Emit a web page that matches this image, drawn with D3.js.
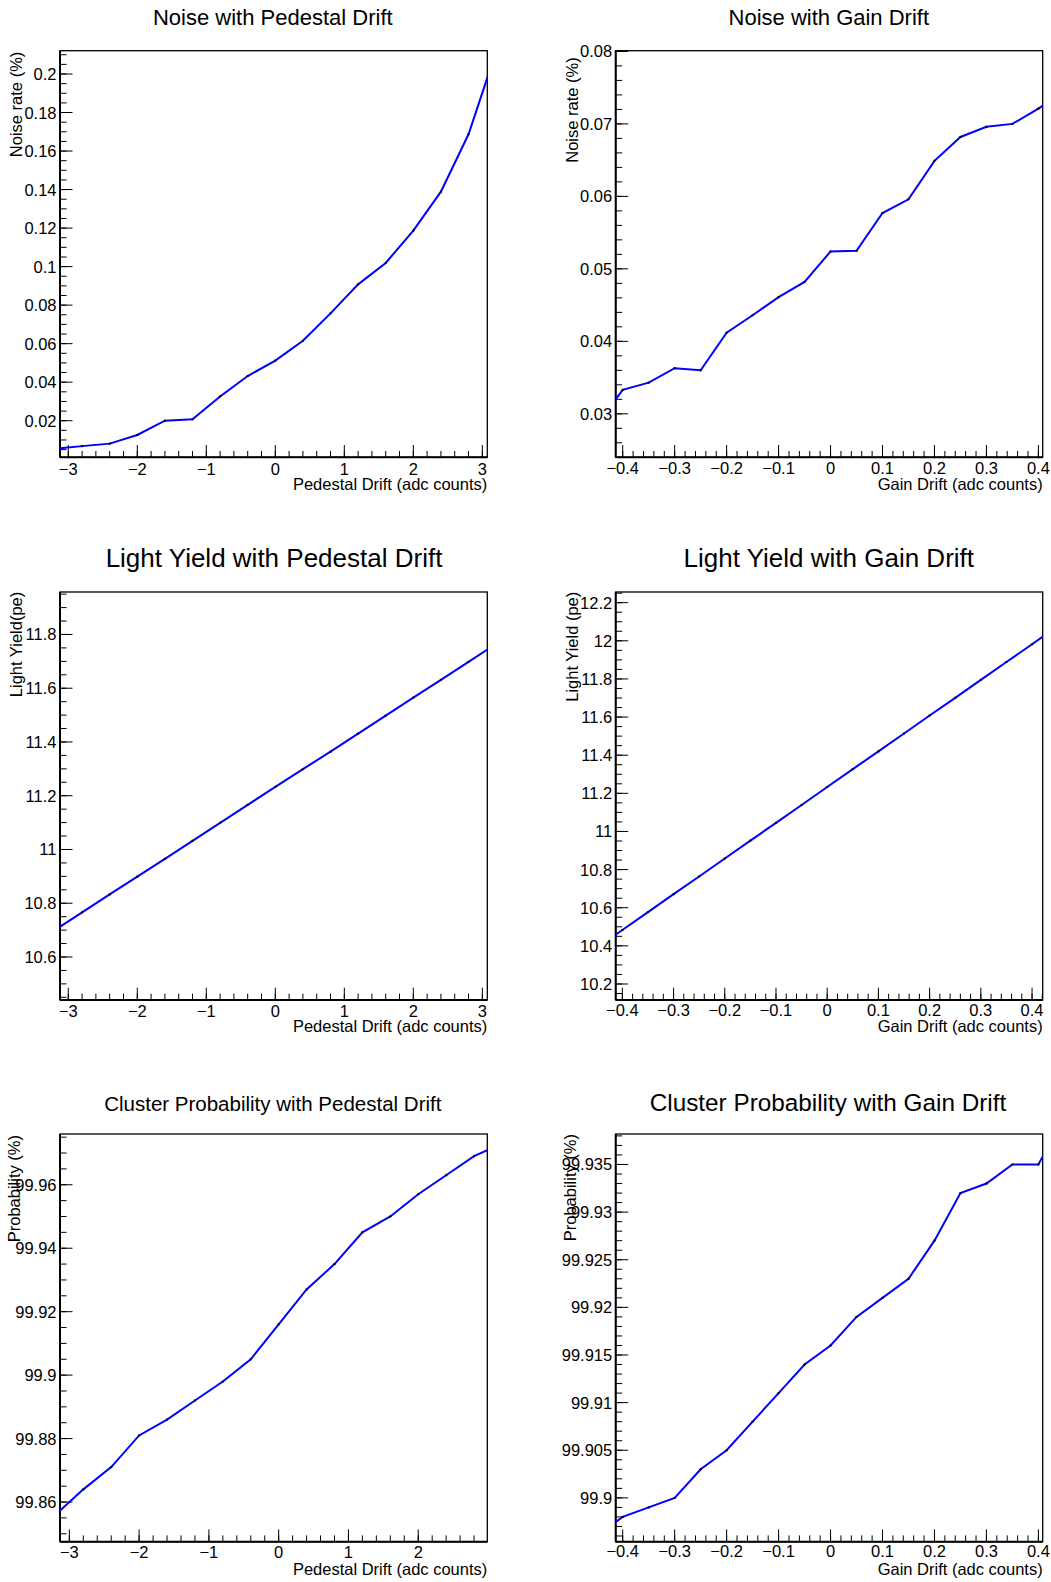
<!DOCTYPE html>
<html><head><meta charset="utf-8">
<script src="https://cdn.jsdelivr.net/npm/d3@7"></script>
<style>
html,body{margin:0;padding:0;background:#fff;}
text{font-family:"Liberation Sans",Arial,Helvetica,sans-serif;fill:#000;}
</style></head>
<body>
<svg id="c" width="1051" height="1582"></svg>
<script>
// ---- data ----
const pedX = [-3.2,-2.8,-2.4,-2,-1.6,-1.2,-0.8,-0.4,0,0.4,0.8,1.2,1.6,2,2.4,2.8,3.2];
const gainX = [-0.45,-0.4,-0.35,-0.3,-0.25,-0.2,-0.15,-0.1,-0.05,0,0.05,0.1,0.15,0.2,0.25,0.3,0.35,0.4,0.45];

const noisePed = [0.0055,0.0068,0.0081,0.0126,0.0200,0.0207,0.0326,0.0432,0.0512,0.0615,0.0757,0.0908,0.1019,0.1187,0.1389,0.1687,0.2118];
const noiseGain = [0.0285,0.0333,0.0343,0.0363,0.0360,0.0412,0.0436,0.0461,0.0482,0.0524,0.0525,0.0577,0.0596,0.0649,0.0682,0.0696,0.0700,0.0721,0.0746];
const lyPed = [10.699,10.766,10.833,10.899,10.965,11.032,11.099,11.166,11.233,11.299,11.364,11.431,11.498,11.565,11.631,11.698,11.765];
const lyGain = [10.390,10.483,10.577,10.671,10.764,10.858,10.952,11.045,11.139,11.233,11.327,11.420,11.514,11.608,11.701,11.795,11.889,11.982,12.076];
const probPed = [99.856,99.864,99.871,99.881,99.886,99.892,99.898,99.905,99.916,99.927,99.935,99.945,99.950,99.957,99.963,99.969,99.973];
const probGain = [99.896,99.898,99.899,99.900,99.903,99.905,99.908,99.911,99.914,99.916,99.919,99.921,99.923,99.927,99.932,99.933,99.935,99.935,99.940];

const titles = ["Noise with Pedestal Drift","Noise with Gain Drift","Light Yield with Pedestal Drift","Light Yield with Gain Drift","Cluster Probability with Pedestal Drift","Cluster Probability with Gain Drift"];
const yTitles = ["Noise rate (%)","Noise rate (%)","Light Yield(pe)","Light Yield (pe)","Probability (%)","Probability (%)"];
const xTitles = ["Pedestal Drift (adc counts)","Gain Drift (adc counts)","Pedestal Drift (adc counts)","Gain Drift (adc counts)","Pedestal Drift (adc counts)","Gain Drift (adc counts)"];

const pedTicks = [-3,-2,-1,0,1,2,3];
const gainTicks = [-0.4,-0.3,-0.2,-0.1,0,0.1,0.2,0.3,0.4];
const yTicksNoisePed = [0.02,0.04,0.06,0.08,0.1,0.12,0.14,0.16,0.18,0.2];
const yTicksNoiseGain = [0.03,0.04,0.05,0.06,0.07,0.08];
const yTicksLyPed = [10.6,10.8,11,11.2,11.4,11.6,11.8];
const yTicksLyGain = [10.2,10.4,10.6,10.8,11,11.2,11.4,11.6,11.8,12,12.2];
const yTicksProbPed = [99.86,99.88,99.9,99.92,99.94,99.96];
const yTicksProbGain = [99.9,99.905,99.91,99.915,99.92,99.925,99.93,99.935];

// ---- layout ----
const panels = [
 {x:pedX, y:noisePed, xt:pedTicks, yt:yTicksNoisePed, xMinor:0.2, yMinor:0.005,
  fx:[60,487.3], fy:[50.7,457.3], xd:[-3.12,3.072], yd:[0.001,0.2121],
  tc:272.8, tb:25, ts:22, ytx:22, yty:51.7, xtb:490, xlb:475},
 {x:gainX, y:noiseGain, xt:gainTicks, yt:yTicksNoiseGain, xMinor:0.02, yMinor:0.002,
  fx:[615.7,1042.7], fy:[50.7,457.3], xd:[-0.4135,0.4083], yd:[0.024,0.0801],
  tc:828.8, tb:25, ts:22, ytx:577.7, yty:57.3, xtb:489.5, xlb:473.5},
 {x:pedX, y:lyPed, xt:pedTicks, yt:yTicksLyPed, xMinor:0.2, yMinor:0.05,
  fx:[60,487.3], fy:[592,1000], xd:[-3.12,3.072], yd:[10.44,11.958],
  tc:274, tb:566.7, ts:26, ytx:21.5, yty:591.7, xtb:1031.6, xlb:1016.7},
 {x:gainX, y:lyGain, xt:gainTicks, yt:yTicksLyGain, xMinor:0.02, yMinor:0.05,
  fx:[615.7,1042.7], fy:[592,1000], xd:[-0.413,0.4208], yd:[10.116,12.256],
  tc:828.8, tb:566.7, ts:26, ytx:578.2, yty:591.7, xtb:1031.6, xlb:1016.2},
 {x:pedX, y:probPed, xt:pedTicks, yt:yTicksProbPed, xMinor:0.2, yMinor:0.005,
  fx:[60,487.3], fy:[1134,1541.7], xd:[-3.134,2.99], yd:[99.8475,99.976],
  tc:272.8, tb:1110.7, ts:20.5, ytx:19.8, yty:1135, xtb:1575, xlb:1558.3},
 {x:gainX, y:probGain, xt:gainTicks, yt:yTicksProbGain, xMinor:0.02, yMinor:0.001,
  fx:[615.7,1042.7], fy:[1134,1541.7], xd:[-0.4135,0.4083], yd:[99.8954,99.9382],
  tc:828, tb:1110.7, ts:24.3, ytx:575.8, yty:1134, xtb:1575, xlb:1557.3}
];

const svg = d3.select("#c");
const fmt = v => { const s = String(+v.toFixed(6)); return s.replace("-", "\u2212"); };
const FS = 16.5;

panels.forEach((p, i) => {
  const g = svg.append("g");
  const xs = d3.scaleLinear().domain(p.xd).range(p.fx);
  const ys = d3.scaleLinear().domain(p.yd).range([p.fy[1], p.fy[0]]);
  const L = p.fx[0], R = p.fx[1], T = p.fy[0], B = p.fy[1];

  // title
  g.append("text").attr("x", p.tc).attr("y", p.tb).attr("text-anchor","middle")
    .style("font-size", p.ts + "px").text(titles[i]);

  // frame
  g.append("rect").attr("x", L).attr("y", T).attr("width", R-L).attr("height", B-T)
    .attr("fill","none").attr("stroke","#000").attr("stroke-width",1.3);

  // minor ticks
  const eps = 1e-9;
  const xMin = d3.range(Math.ceil(p.xd[0]/p.xMinor - eps), Math.floor(p.xd[1]/p.xMinor + eps) + 1).map(k => k*p.xMinor);
  const yMin = d3.range(Math.ceil(p.yd[0]/p.yMinor - eps), Math.floor(p.yd[1]/p.yMinor + eps) + 1).map(k => k*p.yMinor);
  g.selectAll(null).data(xMin).join("line")
    .attr("x1", d=>xs(d)).attr("x2", d=>xs(d)).attr("y1", B).attr("y2", B-6.3)
    .attr("stroke","#000").attr("stroke-width",1);
  g.selectAll(null).data(yMin).join("line")
    .attr("y1", d=>ys(d)).attr("y2", d=>ys(d)).attr("x1", L).attr("x2", L+6.5)
    .attr("stroke","#000").attr("stroke-width",1);
  // major ticks
  const xMaj = p.xt.filter(v => v >= p.xd[0] && v <= p.xd[1]);
  const yMaj = p.yt.filter(v => v >= p.yd[0] && v <= p.yd[1]);
  g.selectAll(null).data(xMaj).join("line")
    .attr("x1", d=>xs(d)).attr("x2", d=>xs(d)).attr("y1", B).attr("y2", B-12.3)
    .attr("stroke","#000").attr("stroke-width",1);
  g.selectAll(null).data(yMaj).join("line")
    .attr("y1", d=>ys(d)).attr("y2", d=>ys(d)).attr("x1", L).attr("x2", L+12.5)
    .attr("stroke","#000").attr("stroke-width",1);

  // axis lines (thicker)
  g.append("line").attr("x1",L).attr("x2",L).attr("y1",T).attr("y2",B).attr("stroke","#000").attr("stroke-width",2);
  g.append("line").attr("x1",L).attr("x2",R).attr("y1",B).attr("y2",B).attr("stroke","#000").attr("stroke-width",2);

  // tick labels
  g.selectAll(null).data(xMaj).join("text")
    .attr("x", d=>xs(d)).attr("y", p.xlb).attr("text-anchor","middle")
    .style("font-size", FS+"px").text(d=>fmt(d));
  g.selectAll(null).data(yMaj).join("text")
    .attr("x", L-3.5).attr("y", d=>ys(d)+6).attr("text-anchor","end")
    .style("font-size", FS+"px").text(d=>fmt(d));

  // axis titles
  g.append("text").attr("x", R).attr("y", p.xtb).attr("text-anchor","end")
    .style("font-size", FS+"px").text(xTitles[i]);
  g.append("text").attr("transform", `translate(${p.ytx},${p.yty}) rotate(-90)`)
    .attr("text-anchor","end").style("font-size", FS+"px").text(yTitles[i]);

  // data line, clipped
  const cid = "clip" + i;
  svg.append("clipPath").attr("id", cid).append("rect")
    .attr("x", L).attr("y", T).attr("width", R-L).attr("height", B-T);
  const pts = p.x.map((xv, k) => [xv, p.y[k]]);
  const dg = g.append("g").attr("clip-path", `url(#${cid})`);
  dg.append("path").datum(pts)
    .attr("d", d3.line().x(d=>xs(d[0])).y(d=>ys(d[1])))
    .attr("fill","none").attr("stroke","#0000ff").attr("stroke-width",2);
  dg.selectAll(null).data(pts).join("rect")
    .attr("x", d=>xs(d[0])-1).attr("y", d=>ys(d[1])-1).attr("width",2).attr("height",2)
    .attr("fill","#000");
});
</script>
</body></html>
